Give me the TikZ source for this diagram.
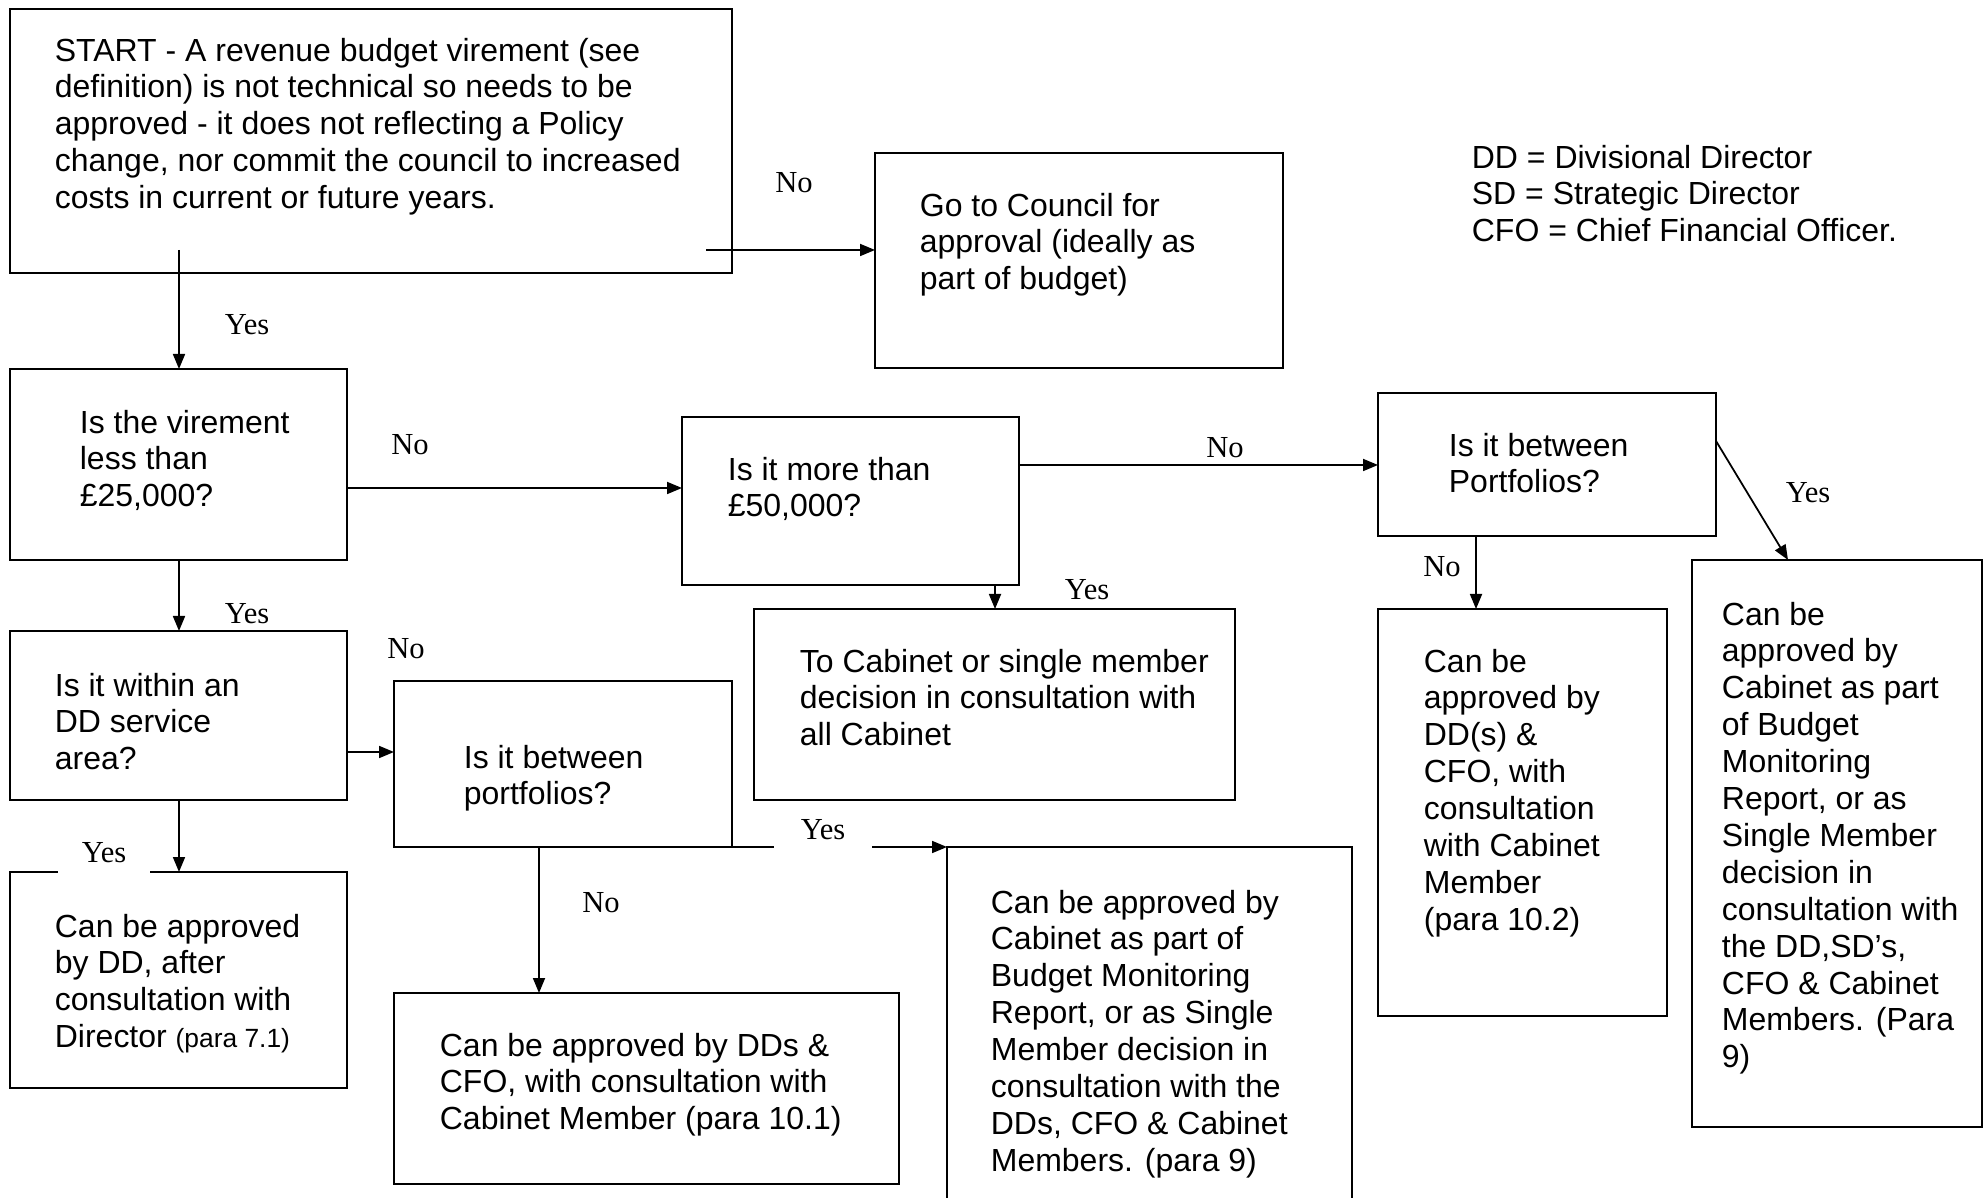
\documentclass[tikz,border=0pt]{standalone}
\usepackage{fontspec}
\setmainfont{Liberation Sans}
\newfontfamily\yesno{Liberation Serif}
\usetikzlibrary{arrows.meta}

\begin{document}
\begin{tikzpicture}[x=0.1mm,y=-0.1mm,line width=0.5pt,>={Triangle[length=1.5mm,width=1.2mm]}]
  \tikzstyle{box}=[draw,rectangle,anchor=north west,inner sep=0pt,outer sep=0pt,line width=0.65pt]
  \tikzstyle{txt}=[anchor=north west,align=left,inner sep=0pt,font=\fontsize{9.1}{10.5}\selectfont]
  \tikzstyle{answer}=[font=\yesno\fontsize{8.7}{10}\selectfont,inner sep=1pt]
  \useasboundingbox (0,0) rectangle (1988,1198);

  % boxes
  \node[box,minimum width=72.2mm,minimum height=26.4mm] (start) at (10,9) {};
  \node[box,minimum width=40.8mm,minimum height=21.5mm] (council) at (875,153) {};
  \node[box,minimum width=33.7mm,minimum height=19.1mm] (less) at (10,369) {};
  \node[box,minimum width=33.7mm,minimum height=16.8mm] (more) at (682,417) {};
  \node[box,minimum width=33.8mm,minimum height=14.3mm] (betw) at (1378,393) {};
  \node[box,minimum width=29.0mm,minimum height=56.7mm] (cabsingle) at (1692,560) {};
  \node[box,minimum width=28.9mm,minimum height=40.7mm] (dds) at (1378,609) {};
  \node[box,minimum width=48.1mm,minimum height=19.1mm] (tocab) at (754,609) {};
  \node[box,minimum width=33.7mm,minimum height=16.9mm] (within) at (10,631) {};
  \node[box,minimum width=33.8mm,minimum height=16.6mm] (port) at (394,681) {};
  \node[box,minimum width=50.5mm,minimum height=19.1mm] (ddscfo) at (394,993) {};
  \node[box,minimum width=40.5mm,minimum height=36.0mm] (cabbud) at (947,847) {};
  \node[box,minimum width=33.7mm,minimum height=21.6mm] (ddafter) at (10,872) {};

  % connectors
  \draw[->] ([shift={(696,-23)}]start.south west) coordinate (a1) -- (a1 -| council.west);
  \draw[->] ([shift={(169,-23)}]start.south west) coordinate (a2) -- (a2 |- less.north);
  \draw[->] ([shift={(0,-72)}]less.south east) coordinate (a3) -- (a3 -| more.west);
  \draw[->] ([shift={(0,48)}]more.north east) coordinate (a4) -- (a4 -| betw.west);
  \draw[->] ([shift={(0,48)}]betw.north east) -- ([shift={(96,0)}]cabsingle.north west);
  \draw[->] ([shift={(98,0)}]betw.south west) coordinate (a6) -- (a6 |- dds.north);
  \draw[->] ([shift={(313,0)}]more.south west) coordinate (a7) -- (a7 |- tocab.north);
  \draw[->] ([shift={(169,0)}]less.south west) coordinate (a8) -- (a8 |- within.north);
  \draw[->] ([shift={(0,-48)}]within.south east) coordinate (a9) -- (a9 -| port.west);
  \draw[->] ([shift={(145,0)}]port.south west) coordinate (a10) -- (a10 |- ddscfo.north);
  \draw[->] (port.south east) -- (cabbud.north west);
  \draw[->] ([shift={(169,0)}]within.south west) coordinate (a12) -- (a12 |- ddafter.north);

  % answers
  \node[answer] (no1) at (794,183) {No};
  \node[answer] (yes1) at (247,325) {Yes};
  \node[answer] (no2) at (410,445) {No};
  \node[answer] (no3) at (1225,448) {No};
  \node[answer] (yes2) at (1808,493) {Yes};
  \node[answer] (no4) at (1442,567) {No};
  \node[answer] (yes3) at (1087,590) {Yes};
  \node[answer] (yes4) at (247,614) {Yes};
  \node[answer] (no5) at (406,649) {No};
  \node[answer] (no6) at (601,903) {No};
  \node[answer,fill=white,minimum width=9.8mm,minimum height=4mm] (yes5) at (823,830) {Yes};
  \node[answer,fill=white,minimum width=9.2mm,minimum height=4.2mm] (yes6) at (104,853) {Yes};

  % texts
  \node[txt] (start-t) at (54,37) {START - A revenue budget virement (see\\definition) is not technical so needs to be\\approved - it does not reflecting a Policy\\change, nor commit the council to increased\\costs in current or future years.};
  \node[txt] (council-t) at (919,192) {Go to Council for\\approval (ideally as\\part of budget)};
  \node[txt] (legend) at (1471,144) {DD = Divisional Director\\SD = Strategic Director\\CFO = Chief Financial Officer.};
  \node[txt] (less-t) at (79,409) {Is the virement\\less than\\£25,000?};
  \node[txt] (more-t) at (727,456) {Is it more than\\£50,000?};
  \node[txt] (betw-t) at (1448,432) {Is it between\\Portfolios?};
  \node[txt] (cabsingle-t) at (1721,601) {Can be\\approved by\\Cabinet as part\\of Budget\\Monitoring\\Report, or as\\Single Member\\decision in\\consultation with\\the DD,SD’s,\\CFO \& Cabinet\\Members. (Para\\9)};
  \node[txt] (dds-t) at (1423,648) {Can be\\approved by\\DD(s) \&\\CFO, with\\consultation\\with Cabinet\\Member\\(para 10.2)};
  \node[txt] (tocab-t) at (799,648) {To Cabinet or single member\\decision in consultation with\\all Cabinet};
  \node[txt] (within-t) at (54,672) {Is it within an\\DD service\\area?};
  \node[txt] (port-t) at (463,744) {Is it between\\portfolios?};
  \node[txt] (ddscfo-t) at (439,1032) {Can be approved by DDs \&\\CFO, with consultation with\\Cabinet Member (para 10.1)};
  \node[txt] (cabbud-t) at (990,889) {Can be approved by\\Cabinet as part of\\Budget Monitoring\\Report, or as Single\\Member decision in\\consultation with the\\DDs, CFO \& Cabinet\\Members. (para 9)};
  \node[txt] (ddafter-t) at (54,913) {Can be approved\\by DD, after\\consultation with\\Director {\fontsize{7.5}{10.5}\selectfont(para 7.1)}};
\end{tikzpicture}
\end{document}
